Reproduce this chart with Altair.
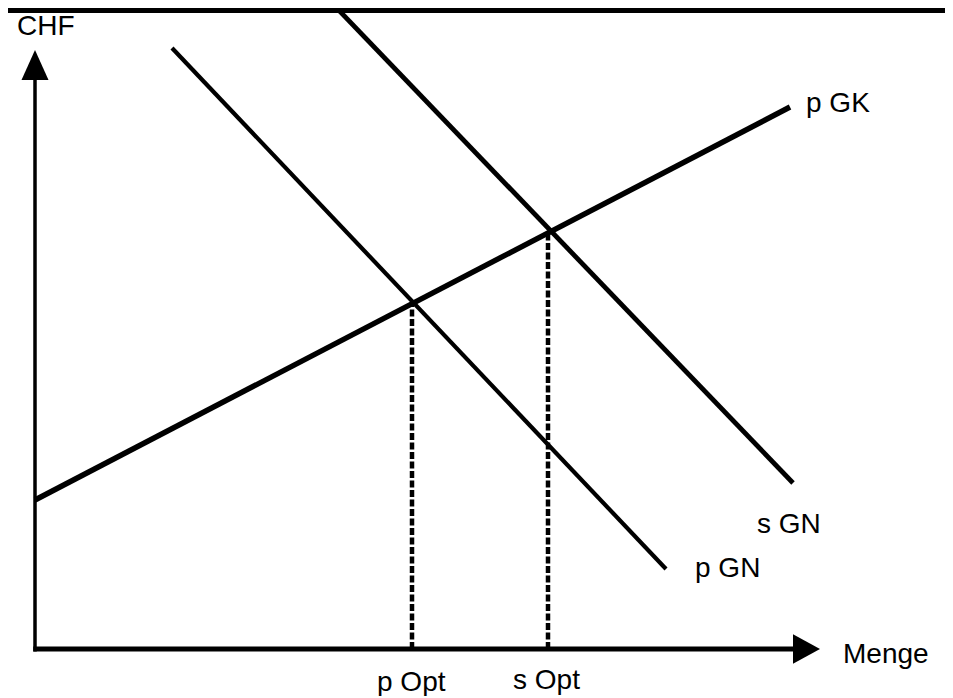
import altair as alt
import pandas as pd

# Data units: positions of the schematic relative to the axis origin
curve_names = ["p GK", "s GN", "p GN"]
curve_x_start = [0, 294, 137]
curve_y_start = [149, 649, 601]
curve_x_end = [755, 758, 631]
curve_y_end = [542, 166, 80]

opt_names = ["p Opt", "s Opt"]
opt_x = [377, 513]
opt_y = [346, 416]

label_texts = ["p GK", "s GN", "p GN", "p Opt", "s Opt", "Menge", "CHF"]
label_x = [771, 722, 660, 342, 478, 808, -18]
label_y = [537, 116, 72, -42, -40, -14, 614]

axis_names = ["x", "y"]
axis_x_start = [-1.75, 0]
axis_y_start = [0, -2.5]
axis_x_end = [760, 0]
axis_y_end = [0, 575]

arrow_names = ["x", "y"]
arrow_x = [771.5, 0]
arrow_y = [0, 584]

W, H = 937, 688
X_DOM = [-27, 910]
Y_DOM = [641 - H, 641]

xs = alt.Scale(domain=X_DOM, nice=False, zero=False)
ys = alt.Scale(domain=Y_DOM, nice=False, zero=False)

curves = pd.DataFrame({"name": curve_names, "x": curve_x_start, "y": curve_y_start,
                       "x2": curve_x_end, "y2": curve_y_end})
opts = pd.DataFrame({"name": opt_names, "x": opt_x, "y": [0, 0], "y2": opt_y})
labels = pd.DataFrame({"text": label_texts, "x": label_x, "y": label_y})
axes = pd.DataFrame({"name": axis_names, "x": axis_x_start, "y": axis_y_start,
                     "x2": axis_x_end, "y2": axis_y_end})
arrows = pd.DataFrame({"name": arrow_names, "x": arrow_x, "y": arrow_y})

X = alt.X("x:Q", scale=xs, axis=None)
Y = alt.Y("y:Q", scale=ys, axis=None)


def seg(df, filt, width, **kw):
    return (alt.Chart(df).transform_filter(filt)
            .mark_rule(color="black", strokeWidth=width, strokeCap="butt", clip=True, **kw)
            .encode(x=X, y=Y, x2="x2:Q", y2="y2:Q"))


layers = [
    seg(curves, alt.datum.name == "p GK", 5.5),
    seg(curves, alt.datum.name == "s GN", 4.8),
    seg(curves, alt.datum.name == "p GN", 4.2),
    alt.Chart(opts).mark_rule(color="black", strokeWidth=4.5, strokeDash=[7, 2.5], strokeCap="butt")
    .encode(x=X, y=Y, y2="y2:Q"),
    seg(axes, alt.datum.name == "x", 5),
    seg(axes, alt.datum.name == "y", 3.5),
    alt.Chart(arrows).transform_filter(alt.datum.name == "y")
    .mark_point(shape="M0,-1L0.9,1L-0.9,1Z", size=900, filled=True, color="black",
                opacity=1, strokeWidth=0)
    .encode(x=X, y=Y),
    alt.Chart(arrows).transform_filter(alt.datum.name == "x")
    .mark_point(shape="M1,0L-1,1.1L-1,-1.1Z", size=729, filled=True, color="black",
                opacity=1, strokeWidth=0)
    .encode(x=X, y=Y),
    alt.Chart(labels).mark_text(align="left", baseline="alphabetic", fontSize=28,
                                font="Liberation Sans", color="black")
    .encode(x=X, y=Y, text="text:N"),
    alt.Chart(pd.DataFrame({"b": [1]})).mark_rect(color="black")
    .encode(x=alt.value(0), x2=alt.value(W), y=alt.value(0), y2=alt.value(5)),
]

chart = (alt.layer(*layers)
         .properties(width=W, height=H, padding=0, autosize=alt.AutoSizeParams(type="none"),
                     background="white")
         .configure_view(stroke=None))

chart.save("out.html", embed_options={"renderer": "svg", "actions": False})
